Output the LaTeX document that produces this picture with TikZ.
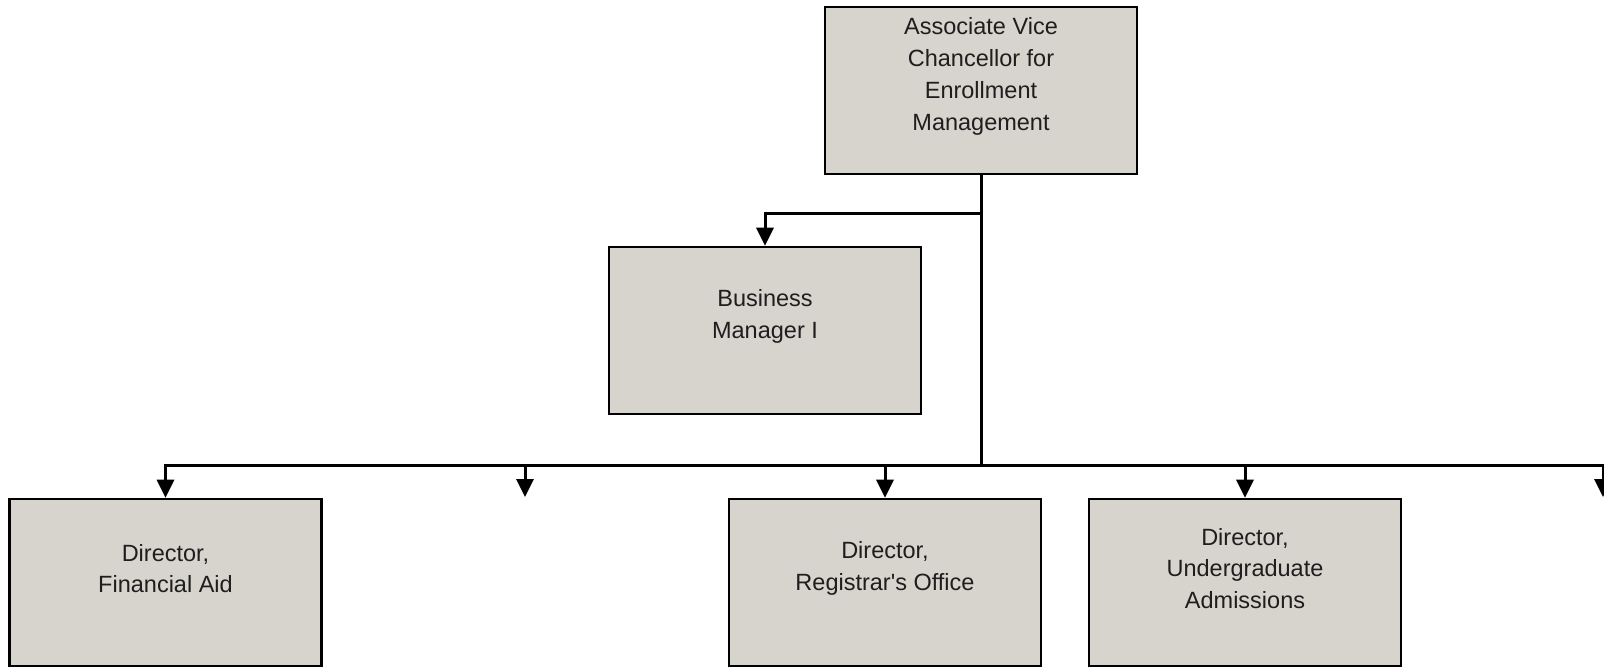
\documentclass[tikz,border=0pt]{standalone}
\usepackage{fontspec}
\setmainfont{Liberation Sans}
\usetikzlibrary{arrows.meta}
\definecolor{boxfill}{RGB}{215,211,205}
\definecolor{txt}{RGB}{30,30,30}
\begin{document}
\begin{tikzpicture}[x=1pt,y=-1pt,
  orgbox/.style={draw=black, fill=boxfill, line width=2.6pt, minimum width=312pt, minimum height=167pt, inner sep=0pt},
  orgtext/.style={align=center, text=txt, font=\fontsize{23.5}{31.8}\selectfont, inner sep=0pt},
  link/.style={draw=black, line width=3pt},
  arr/.style={link, -{Triangle[width=17pt,length=18pt]}}]
\useasboundingbox[fill=white] (0,0) rectangle (1604,667);
% boxes
\node[orgbox] (avc) at (981,90.5) {};
\node[orgtext] (avct) at (981,76.5) {Associate Vice\\Chancellor for\\Enrollment\\Management};
\node[orgbox] (bm) at (765,330.5) {};
\node[orgtext] (bmt) at (765,316.5) {Business\\Manager I};
\node[orgbox] (fa) at (165.5,582.5) {};
\node[orgtext] (fat) at (165.5,568.5) {Director,\\Financial Aid};
\node[orgbox] (reg) at (885,582.5) {};
\node[orgtext] (regt) at (885,568.5) {Director,\\Registrar\textquotesingle s Office};
\node[orgbox] (ug) at (1245,582.5) {};
\node[orgtext] (ugt) at (1245,568.5) {Director,\\Undergraduate\\Admissions};
% connector points
\coordinate (split) at (981,213);
\coordinate (bus) at (981,465);
\coordinate (vac) at (525,497);
\coordinate (edge) at (1603,497);
% connectors
\draw[link] (avc.south) -- (bus);
\draw[arr] (split) -| (bm.north);
\draw[arr] (bus) -| (fa.north);
\draw[arr] (bus) -| (edge);
\draw[arr] (vac |- bus) -- (vac);
\draw[arr] (reg.north |- bus) -- (reg.north);
\draw[arr] (ug.north |- bus) -- (ug.north);
\end{tikzpicture}
\end{document}
